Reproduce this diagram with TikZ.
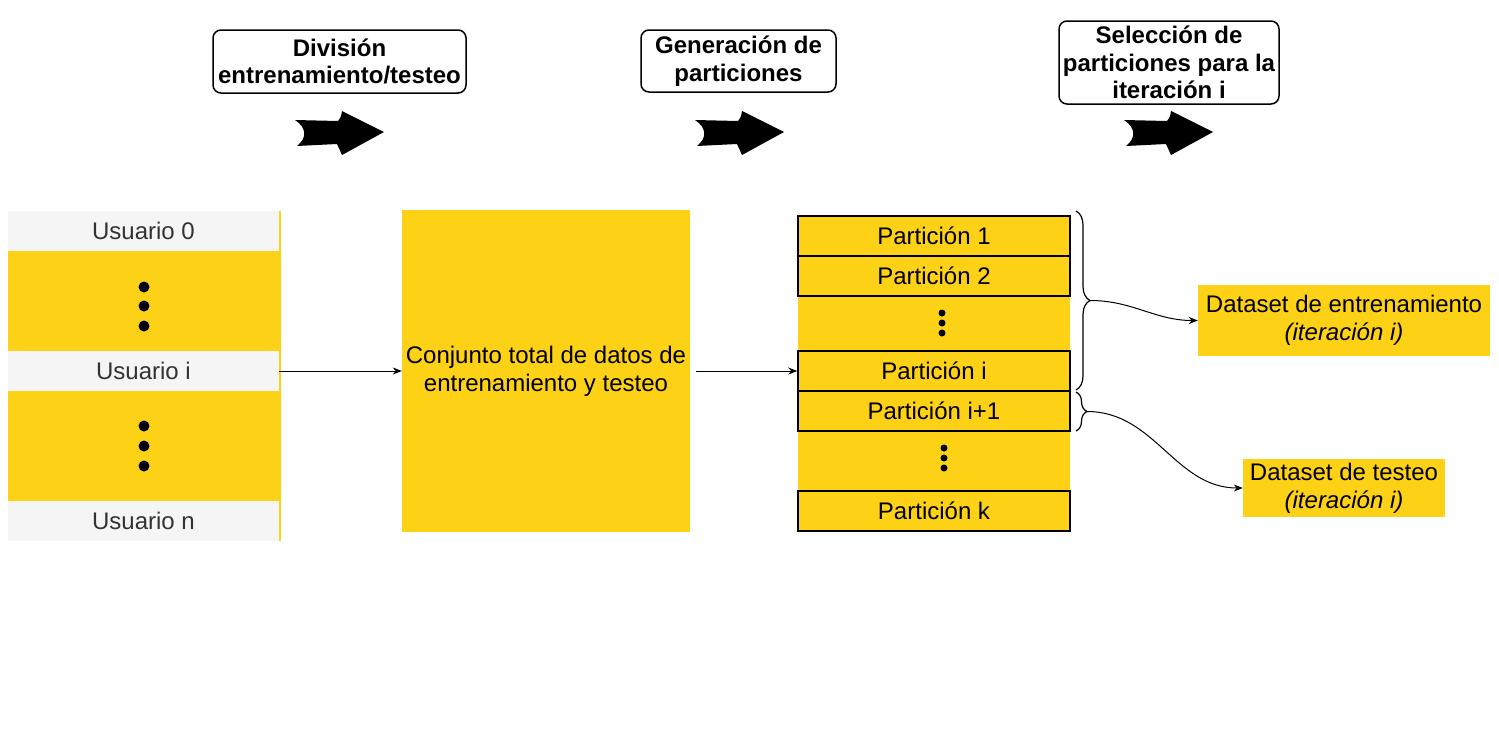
\documentclass[tikz,border=0pt]{standalone}
\usepackage{fontspec}
\setmainfont{Liberation Sans}
\usepackage{tikz}
\usetikzlibrary{positioning}
\usetikzlibrary{calc}
\usetikzlibrary{arrows.meta}
\usetikzlibrary{decorations.pathreplacing}

\definecolor{amarillo}{HTML}{FCD116}
\definecolor{gris}{HTML}{F5F5F5}
\definecolor{grisoscuro}{HTML}{333333}

\tikzset{
  titlebox/.style={draw, rounded corners=8pt, line width=1.5pt, align=center,
    inner sep=0pt, font=\fontsize{24}{27.5}\selectfont\bfseries},
  yellowbox/.style={fill=amarillo, inner sep=0pt, align=center},
  userbox/.style={fill=gris, text=grisoscuro, inner sep=0pt,
    minimum width=271, minimum height=40},
  partbox/.style={fill=amarillo, draw=black, line width=1.5pt, inner sep=0pt,
    minimum width=272, minimum height=40},
  bigdot/.style={circle, fill=black, inner sep=0pt, minimum size=11},
  smalldot/.style={circle, fill=black, inner sep=0pt, minimum size=7},
  flecha/.style={->, line width=1pt},
}

\begin{document}
\begin{tikzpicture}[x=1pt, y=-1pt, font=\fontsize{24}{28}\selectfont, >={Stealth[length=9pt, width=7pt]}]
\useasboundingbox (0,0) rectangle (1499,737);

% titulos
\node (t1) [titlebox, minimum width=253, minimum height=63] at (339.5,61.5) {Divisi\'on\\entrenamiento/testeo};
\node (t2) [titlebox, minimum width=195, minimum height=62] at (738.5,61) {Generaci\'on de\\particiones};
\node (t3) [titlebox, minimum width=220, minimum height=83] at (1169,62.5) {Selecci\'on de\\particiones para la\\iteraci\'on i};

% flechas grandes
\foreach \x in {295,695,1124}
  \fill[shift={(\x,132)}] (0,-12) -- (43,-11) .. controls (46,-15) .. (47,-21) -- (89,0)
    -- (47,23) .. controls (45,17) .. (42,12) -- (2,14) .. controls (12,6) and (12,-4) .. cycle;

% usuarios
\node (ucol) [yellowbox, minimum width=273, minimum height=330] at (144.5,376) {};
\node (u0) [userbox] at (143.5,231) {Usuario 0};
\node (ui) [userbox] at (143.5,371) {Usuario i};
\node (un) [userbox] at (143.5,521) {Usuario n};
\foreach \y in {287,306,326,426,446,466}
  \node (d\y) [bigdot] at (144,\y) {};

% conjunto total
\node (total) [yellowbox, minimum width=288, minimum height=322] at (546,371) {Conjunto total de datos de\\entrenamiento y testeo};

% particiones
\node (pcol) [yellowbox, minimum width=272, minimum height=315] at (934,373.5) {};
\node (p1) [partbox] at (934,236) {Partici\'on 1};
\node (p2) [partbox] at (934,276) {Partici\'on 2};
\node (pi) [partbox] at (934,371) {Partici\'on i};
\node (pj) [partbox] at (934,411) {Partici\'on i+1};
\node (pk) [partbox] at (934,511) {Partici\'on k};
\foreach \y in {313,323,333}
  \node (e\y) [smalldot] at (942,\y) {};
\foreach \y in {448,458,468}
  \node (f\y) [smalldot] at (944,\y) {};

% datasets
\node (train) [yellowbox, minimum width=292, minimum height=71] at (1344,320.5) {Dataset de entrenamiento\\\textit{(iteraci\'on i)}};
\node (test) [yellowbox, minimum width=202, minimum height=58] at (1344,488) {Dataset de testeo\\\textit{(iteraci\'on i)}};

% llaves
\draw[line width=1.2pt, decorate, decoration={brace, amplitude=14pt}] (1076,211) -- (1076,390);
\draw[line width=1.2pt, decorate, decoration={brace, amplitude=11pt}] (1076,392) -- (1076,431);
\coordinate (b1) at (1090,300.5);
\coordinate (b2) at (1087,411.5);

% conexiones
\draw[flecha] (ui.east) -- (total.west |- ui.east);
\draw[flecha] ($(total.east)+(6,0)$) coordinate (c1) -- (pi.west);
\draw[flecha] (b1) to[out=0, in=180] (train.west);
\draw[flecha] (b2) to[out=0, in=180] (test.west);

\end{tikzpicture}
\end{document}
